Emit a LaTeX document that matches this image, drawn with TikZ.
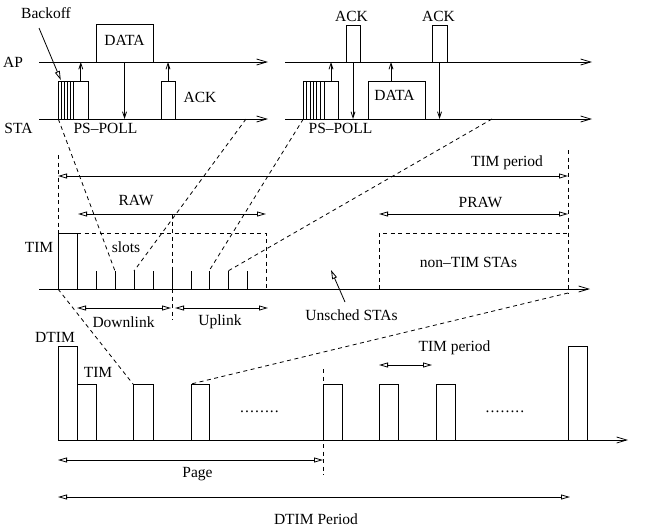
\documentclass[tikz,border=0pt]{standalone}
\usepackage{fontspec}
\setmainfont{Liberation Serif}
\usetikzlibrary{arrows.meta,fit,calc}

\newcommand{\gapdots}{.\kern1.1pt.\kern1.1pt.\kern1.1pt.\kern1.1pt.\kern1.1pt.\kern1.1pt.\kern1.1pt.}

\begin{document}
\begin{tikzpicture}[x=1pt,y=-1pt, line width=0.8pt,
  font=\fontsize{15.5}{18}\selectfont,
  box/.style={draw, inner sep=0pt, outer sep=0pt},
  lbl/.style={inner sep=0pt},
  axis/.style={-{Straight Barb[length=10pt,width=6pt]}},
  sig/.style={-{Straight Barb[length=6pt,width=4pt]}},
  span/.style={{Triangle[open,length=9pt,width=5pt]}-{Triangle[open,length=9pt,width=5pt]}},
  pointer/.style={-{Triangle[open,length=9pt,width=5pt]}},
  dsh/.style={dash pattern=on 4pt off 3.5pt},
]
\useasboundingbox (0,0) rectangle (645,528);

% ---------- first PS-POLL exchange ----------
\node[lbl] (apA) at (13,62) {AP};
\node[lbl] (staA) at (18.5,128) {STA};
\coordinate (apAl) at (39,62);   \coordinate (apAr) at (268,62);
\coordinate (staAl) at (39,119); \coordinate (staAr) at (268,119);
\draw[axis] (apAl) -- (apAr);
\draw[axis] (staAl) -- (staAr);

\node[box, fit={(58.3,81) (73.3,119)}] (boA) {};
\foreach \x in {61.3,64.3,67.3,70.3} \draw (\x,81) -- (\x,119);
\node[box, fit={(73.3,81) (88.3,119)}] (pollA) {};
\draw[sig] (pollA.north) -- (pollA.north |- apAl);
\node[lbl] at (105.5,128) {PS--POLL};

\node[box, fit={(96,24) (153,62)}] (dataA) {};
\node[lbl] at (124.5,40) {DATA};
\draw[sig] (dataA.south) -- (dataA.south |- staAl);

\node[box, fit={(161,81) (175,119)}] (ackA) {};
\draw[sig] (ackA.north) -- (ackA.north |- apAl);
\node[lbl] at (200,97) {ACK};

\node[lbl] (backoff) at (46,13) {Backoff};
\coordinate (boTail) at (39,28);
\draw[pointer] (boTail) -- ([xshift=2.5pt,yshift=1pt]boA.north west);

% ---------- second PS-POLL exchange ----------
\coordinate (apBl) at (285,62);   \coordinate (apBr) at (592,62);
\coordinate (staBl) at (285,119); \coordinate (staBr) at (592,119);
\draw[axis] (apBl) -- (apBr);
\draw[axis] (staBl) -- (staBr);

\node[box, fit={(303.3,81) (324,119)}] (boB) {};
\foreach \x in {306.7,310,313.3,316.7,320} \draw (\x,81) -- (\x,119);
\node[box, fit={(324,81) (338,119)}] (pollB) {};
\draw[sig] (pollB.north) -- (pollB.north |- apBl);
\node[lbl] at (340.5,128) {PS--POLL};

\node[box, fit={(346,25) (360,62)}] (ackB1) {};
\node[lbl] at (351.5,16) {ACK};
\draw[sig] (ackB1.south) -- (ackB1.south |- staBl);

\node[box, fit={(368,81) (425,119)}] (dataB) {};
\node[lbl] at (394.5,95) {DATA};
\draw[sig] ([xshift=-5.5pt]dataB.north) -- ([xshift=-5.5pt]dataB.north |- apBl);

\node[box, fit={(432,25) (447,62)}] (ackB2) {};
\node[lbl] at (438.5,16) {ACK};
\draw[sig] (ackB2.south) -- (ackB2.south |- staBl);

% ---------- TIM period ----------
\coordinate (midL) at (39,289); \coordinate (midR) at (590,289);
\draw[axis] (midL) -- (midR);

\node[box, fit={(58,233) (77,289)}] (timM) {};
\node[lbl] at (39,247) {TIM};
\node[lbl] at (126,247) {slots};

\coordinate (tpL) at (58,176); \coordinate (tpR) at (568,176);
\draw[span] (tpL) -- (tpR);
\node[lbl] at (507,163) {TIM period};
\draw[dsh] (58,155) -- (timM.north west);
\draw[dsh] (568,150) -- (568,293);

\coordinate (rawL) at (78,214); \coordinate (rawR) at (266,214);
\draw[span] (rawL) -- (rawR);
\node[lbl] at (136,200) {RAW};
\draw[dsh] (timM.north east) -- (266,233) -- (266,289);
\draw[dsh] (172,214) -- (172,320);

\foreach \x [count=\i] in {96,115,134,153,172,191,209,228,247} {
  \coordinate (t\i) at (\x,271);
  \draw (t\i) -- (\x,289);
}

\coordinate (dlL) at (77,308); \coordinate (dlR) at (171,308);
\draw[span] (dlL) -- (dlR);
\node[lbl] at (123.5,322) {Downlink};
\coordinate (ulL) at (175,308); \coordinate (ulR) at (268,308);
\draw[span] (ulL) -- (ulR);
\node[lbl] at (220,322) {Uplink};

\coordinate (prL) at (379,214); \coordinate (prR) at (568,214);
\draw[span] (prL) -- (prR);
\node[lbl] at (480.5,202) {PRAW};
\draw[dsh] (379,289) -- (379,233) -- (568,233);
\node[lbl] at (468.5,262) {non--TIM STAs};

\node[lbl] (unsched) at (351.5,315) {Unsched STAs};
\coordinate (unTail) at (345,302);
\draw[pointer] (unTail) -- (331,270);

% ---------- DTIM period ----------
\coordinate (botL) at (58,440); \coordinate (botR) at (628,440);
\draw[axis] (botL) -- (botR);

\node[box, fit={(58,346) (77,440)}] (dtimA) {};
\node[lbl] at (55,337) {DTIM};
\node[box, fit={(77,384) (96,440)}] (tb1) {};
\node[lbl] at (98,372) {TIM};
\node[box, fit={(133,384) (153,440)}] (tb2) {};
\node[box, fit={(191,384) (209,440)}] (tb3) {};
\node[lbl, anchor=base] at (259.5,412) {\gapdots};
\node[box, fit={(323,384) (342,440)}] (tb4) {};
\node[box, fit={(379,384) (398,440)}] (tb5) {};
\node[box, fit={(436,384) (455,440)}] (tb6) {};
\node[lbl, anchor=base] at (505,412) {\gapdots};
\node[box, fit={(568,346) (587,440)}] (dtimB) {};

\draw[dsh] (323,369) -- (323,475);

\coordinate (stL) at (379,365); \coordinate (stR) at (432,365);
\draw[span] (stL) -- (stR);
\node[lbl] at (454.5,348) {TIM period};

\coordinate (pgL) at (58,460); \coordinate (pgR) at (323,460);
\draw[span] (pgL) -- (pgR);
\node[lbl] at (197.5,474) {Page};

\coordinate (dpL) at (58,497); \coordinate (dpR) at (570,497);
\draw[span] (dpL) -- (dpR);
\node[lbl] at (316,519) {DTIM Period};

% ---------- zoom guides ----------
\coordinate (cutA) at (246,119);
\coordinate (cutB) at (492,119);
\coordinate (cutC) at (568,293);
\draw[dsh] (boA.south west) -- (t2);
\draw[dsh] (cutA) -- (t3);
\draw[dsh] (boB.south west) -- (t7);
\draw[dsh] (cutB) -- (t8);
\draw[dsh] (timM.south west) -- (tb2.north west);
\draw[dsh] (cutC) -- (tb3.north west);
\end{tikzpicture}
\end{document}
